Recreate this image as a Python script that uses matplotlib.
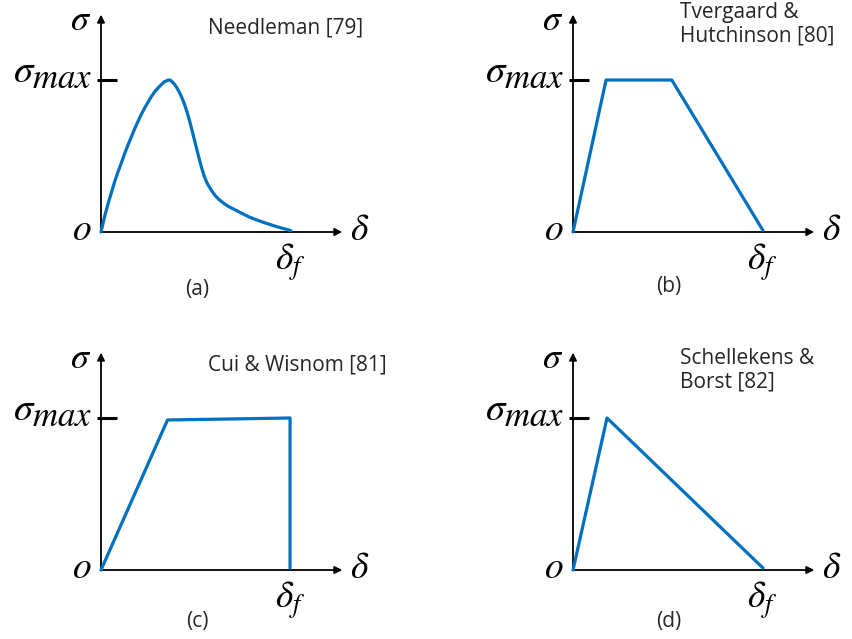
import matplotlib
matplotlib.use("Agg")
import matplotlib.pyplot as plt

plt.rcParams['mathtext.fontset'] = 'stix'
plt.rcParams['font.family'] = ['Open Sans', 'DejaVu Sans']

# traction-separation laws, delta in units of delta_f, sigma in units of sigma_max
needleman_d = [0.0, 0.021, 0.038, 0.056, 0.073, 0.090, 0.108, 0.125, 0.142, 0.160,
               0.177, 0.194, 0.212, 0.229, 0.247, 0.264, 0.281, 0.299, 0.316, 0.333,
               0.351, 0.360, 0.368, 0.385, 0.403, 0.420, 0.437, 0.455, 0.472, 0.489,
               0.506, 0.520, 0.533, 0.541, 0.550, 0.559, 0.568, 0.585, 0.602, 0.620,
               0.646, 0.672, 0.707, 0.741, 0.776, 0.811, 0.845, 0.880, 0.915, 0.950,
               0.984, 1.0]
needleman_s = [0.0, 0.112, 0.189, 0.265, 0.336, 0.397, 0.458, 0.518, 0.572, 0.627,
               0.678, 0.726, 0.774, 0.814, 0.853, 0.889, 0.920, 0.946, 0.968, 0.988,
               0.998, 1.0, 0.996, 0.975, 0.941, 0.900, 0.849, 0.781, 0.704, 0.619,
               0.534, 0.466, 0.408, 0.376, 0.346, 0.320, 0.300, 0.267, 0.238, 0.215,
               0.189, 0.167, 0.145, 0.123, 0.101, 0.083, 0.068, 0.053, 0.039, 0.026,
               0.015, 0.008]

tvergaard_d = [0.0, 0.174, 0.52, 1.0]
tvergaard_s = [0.0, 1.0, 1.0, 0.01]

cui_d = [0.0, 0.35, 0.995, 0.995]
cui_s = [0.0, 0.987, 1.0, 0.013]

schellekens_d = [0.0, 0.179, 1.0]
schellekens_s = [0.0, 1.0, 0.013]

panel_tags = ['(a)', '(b)', '(c)', '(d)']
refs = ['Needleman [79]', 'Tvergaard &\nHutchinson [80]',
        'Cui & Wisnom [81]', 'Schellekens &\nBorst [82]']

W, H = 853, 639
SX, SY = 190.0, 152.0   # pixels per unit delta_f / sigma_max
BLUE = '#0070C0'
INK = '#262626'

fig = plt.figure(figsize=(W / 100, H / 100), dpi=100)


def make_axes(ox, oy):
    left, right = ox - 100, ox + 310
    top, bottom = oy - 232, oy + 69
    ax = fig.add_axes([left / W, (H - bottom) / H, (right - left) / W, (bottom - top) / H])
    ax.set_xlim(-100 / SX, 310 / SX)
    ax.set_ylim(-69 / SY, 232 / SY)
    ax.axis('off')
    return ax


def draw_panel(ax, d, s, tag, ref, ref_y, tag_y):
    arrow = dict(arrowstyle='-|>', color='black', lw=1.3, mutation_scale=11,
                 shrinkA=0, shrinkB=0)
    ax.annotate('', xy=(1.27, 0), xytext=(0, 0), arrowprops=arrow)
    ax.annotate('', xy=(0, 1.43), xytext=(0, 0), arrowprops=arrow)
    ax.plot([-0.02, 0.085], [1, 1], color='black', lw=2.2, solid_capstyle='butt')
    ax.plot(d, s, color=BLUE, lw=2.3, solid_joinstyle='round', solid_capstyle='round',
            clip_on=False, zorder=3)

    ax.text(-0.11, 1.39, r'$\sigma$', fontsize=26, ha='center', va='center')
    # sigma_max drawn as two pieces so the subscript keeps its large size
    ax.text(-0.345, 0.99, r'$\sigma$', fontsize=28, ha='right', va='baseline')
    ax.text(-0.045, 0.945, r'$max$', fontsize=25, ha='right', va='baseline')
    ax.text(-0.1, 0.01, r'$o$', fontsize=27, ha='center', va='center')
    ax.text(1.36, 0.01, r'$\delta$', fontsize=27, ha='center', va='center')
    ax.text(0.995, -0.2, r'$\delta_f$', fontsize=27, ha='center', va='center')
    ax.text(0.505, tag_y, tag, fontsize=15, ha='center', va='center', color=INK)
    ax.text(0.565, ref_y, ref, fontsize=15, ha='left', va='top', color=INK,
            linespacing=1.15)


ax_a = make_axes(101, 232)
draw_panel(ax_a, needleman_d, needleman_s, panel_tags[0], refs[0], 1.41, -0.38)
ax_b = make_axes(573, 232)
draw_panel(ax_b, tvergaard_d, tvergaard_s, panel_tags[1], refs[1], 1.51, -0.36)
ax_c = make_axes(101, 570)
draw_panel(ax_c, cui_d, cui_s, panel_tags[2], refs[2], 1.42, -0.34)
ax_d = make_axes(573, 570)
draw_panel(ax_d, schellekens_d, schellekens_s, panel_tags[3], refs[3], 1.46, -0.34)

fig.savefig('out.png', dpi=100)
